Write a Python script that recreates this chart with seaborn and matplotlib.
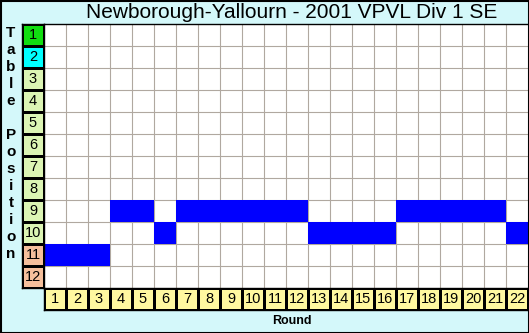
import numpy as np
import matplotlib
matplotlib.use("Agg")
import matplotlib.pyplot as plt
from matplotlib.colors import ListedColormap
from matplotlib.patches import Rectangle
import seaborn as sns

title = "Newborough-Yallourn - 2001 VPVL Div 1 SE"
rounds = list(range(1, 23))
positions_axis = list(range(1, 13))
team_position = [11, 11, 11, 9, 9, 10, 9, 9, 9, 9, 9, 9, 10, 10, 10, 10, 9, 9, 9, 9, 9, 10]
position_colors = ["#11dd11", "#00ffff"] + ["#dcf5b4"] * 8 + ["#f5bf9c"] * 2
round_color = "#fff8a0"
bg_color = "#d4f8fa"
grid_color = "#b0a8a0"
mark_color = "#0000ff"

sns.set_theme(style="white")
plt.rcParams["font.family"] = ["Liberation Sans", "DejaVu Sans"]

W, H = 529, 333
fig = plt.figure(figsize=(W / 100, H / 100), dpi=100)
fig.patch.set_facecolor(bg_color)

def px_axes(x0, y0, x1, y1):
    return fig.add_axes([x0 / W, 1 - y1 / H, (x1 - x0) / W, (y1 - y0) / H])

# main grid
ax = px_axes(44, 24, 528, 288)
ax.set_facecolor("white")
nr, nc = len(positions_axis), len(rounds)
mat = np.zeros((nr, nc))
for j, p in enumerate(team_position):
    mat[positions_axis.index(p), j] = 1
ax.vlines(np.arange(1, nc), 0, nr, color=grid_color, lw=0.8, zorder=0)
ax.hlines(np.arange(1, nr), 0, nc, color=grid_color, lw=0.8, zorder=0)
sns.heatmap(mat, mask=(mat == 0), cmap=ListedColormap([mark_color]), cbar=False,
            linewidths=0, ax=ax, xticklabels=False, yticklabels=False)
ax.set_xlim(0, nc)
ax.set_ylim(nr, 0)
ax.spines["top"].set_visible(True)
ax.spines["top"].set_color("black")
ax.spines["top"].set_linewidth(1)
for s in ["left", "right", "bottom"]:
    ax.spines[s].set_visible(False)
ax.set_xlabel("")
ax.set_ylabel("")

# left position column
axl = px_axes(22, 24, 44, 288)
pos_mat = np.arange(nr).reshape(-1, 1)
sns.heatmap(pos_mat, cmap=ListedColormap(position_colors), vmin=-0.5, vmax=nr - 0.5,
            cbar=False, linewidths=1, linecolor="black", ax=axl,
            annot=np.array([[str(p)] for p in positions_axis]), fmt="",
            annot_kws={"color": "black", "fontsize": 10.5},
            xticklabels=False, yticklabels=False)
for s in axl.spines.values():
    s.set_visible(True); s.set_color("black"); s.set_linewidth(1)

# bottom round row
axb = px_axes(44, 288, 528, 310)
r_mat = np.zeros((1, nc))
sns.heatmap(r_mat, cmap=ListedColormap([round_color]), cbar=False,
            linewidths=1, linecolor="black", ax=axb,
            annot=np.array([[str(r) for r in rounds]]), fmt="",
            annot_kws={"color": "black", "fontsize": 10.5},
            xticklabels=False, yticklabels=False)
for s in axb.spines.values():
    s.set_visible(True); s.set_color("black"); s.set_linewidth(1)

# texts
fig.text(292 / W, 1 - 13 / H, title, ha="center", va="center", fontsize=15, color="black")
fig.text(292 / W, 1 - 321 / H, "Round", ha="center", va="center", fontsize=9,
         fontweight="bold", color="black")
label = "Table Position"
for i, ch in enumerate(label):
    if ch != " ":
        fig.text(11 / W, 1 - (33 + 17 * i) / H, ch, ha="center", va="center",
                 fontsize=11, fontweight="bold", color="black")

fig.patches.append(Rectangle((0.5 / W, 0.5 / H), (W - 1) / W, (H - 1) / H, transform=fig.transFigure,
                             fill=False, edgecolor="black", lw=1.5, zorder=10))

fig.savefig("out.png", dpi=100, facecolor=fig.get_facecolor())
